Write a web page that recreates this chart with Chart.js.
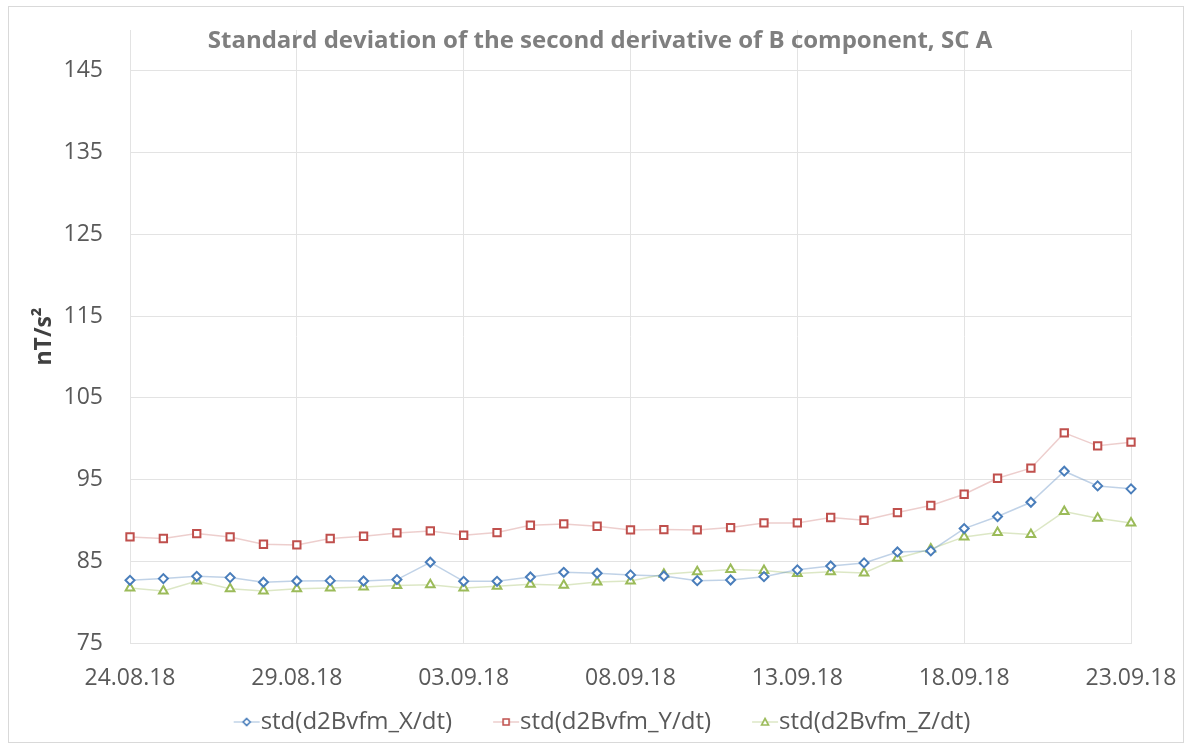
<!DOCTYPE html>
<html>
<head>
<meta charset="utf-8">
<script src="https://cdn.jsdelivr.net/npm/chart.js@4.4.1/dist/chart.umd.min.js"></script>
<style>
  html, body { margin: 0; padding: 0; background: #fff; }
  #wrap { width: 1192px; height: 749px; position: relative; }
</style>
</head>
<body>
<div id="wrap"><canvas id="chart"></canvas></div>
<script>
// ===== DATA =====
const dates = [
  "24.08.18", "25.08.18", "26.08.18", "27.08.18", "28.08.18", "29.08.18", "30.08.18", "31.08.18",
  "01.09.18", "02.09.18", "03.09.18", "04.09.18", "05.09.18", "06.09.18", "07.09.18", "08.09.18",
  "09.09.18", "10.09.18", "11.09.18", "12.09.18", "13.09.18", "14.09.18", "15.09.18", "16.09.18",
  "17.09.18", "18.09.18", "19.09.18", "20.09.18", "21.09.18", "22.09.18", "23.09.18"
]
const stdX = [
  82.67, 82.88, 83.16, 83.00, 82.43, 82.59, 82.63, 82.59, 82.76, 84.88,
  82.55, 82.55, 83.08, 83.65, 83.53, 83.33, 83.20, 82.63, 82.71, 83.12,
  83.95, 84.43, 84.80, 86.14, 86.27, 89.00, 90.47, 92.22, 96.02, 94.22, 93.86
]
const stdY = [
  87.98, 87.78, 88.39, 87.98, 87.08, 87.00, 87.78, 88.06, 88.47, 88.71,
  88.18, 88.51, 89.41, 89.57, 89.29, 88.84, 88.88, 88.84, 89.12, 89.69,
  89.69, 90.35, 90.02, 90.96, 91.82, 93.20, 95.16, 96.39, 100.71, 99.12, 99.57
]
const stdZ = [
  81.73, 81.37, 82.59, 81.65, 81.37, 81.65, 81.73, 81.86, 82.02, 82.14,
  81.73, 81.94, 82.18, 82.06, 82.47, 82.59, 83.41, 83.73, 83.98, 83.86,
  83.49, 83.73, 83.57, 85.37, 86.51, 87.98, 88.51, 88.27, 91.08, 90.27, 89.69
]
const yTicks = [75, 85, 95, 105, 115, 125, 135, 145]
const seriesNames = ["std(d2Bvfm_X/dt)", "std(d2Bvfm_Y/dt)", "std(d2Bvfm_Z/dt)"]
const chartTitle = "Standard deviation of the second derivative of B component, SC A"
const yTitle = "nT/s²"

// ===== STYLE =====
const FONT = "'Open Sans', 'Noto Sans', sans-serif"
const GRID = "#e3e3e3"
const colors = [
  { mark: "#4a7ebb", line: "rgba(74,126,187,0.35)", style: "rectRot",  r: 4.5 },
  { mark: "#c0504d", line: "rgba(192,80,77,0.28)",  style: "rect",     r: 5.2 },
  { mark: "#9bbb59", line: "rgba(155,187,89,0.35)", style: "triangle", r: 5 }
]

// legend icon: short line with the marker, shifted right so it sits just before the text
function legendIcon(c) {
  const cv = document.createElement("canvas")
  cv.width = 66; cv.height = 14
  const g = cv.getContext("2d")
  const cx = 52, cy = 7
  g.strokeStyle = c.line; g.lineWidth = 1.5
  g.beginPath(); g.moveTo(cx - 13, cy); g.lineTo(cx + 13, cy); g.stroke()
  g.fillStyle = "#fff"; g.strokeStyle = c.mark; g.lineWidth = 1.6
  g.beginPath()
  if (c.style === "rectRot") {
    g.moveTo(cx, cy - 3.5); g.lineTo(cx + 3.5, cy); g.lineTo(cx, cy + 3.5); g.lineTo(cx - 3.5, cy); g.closePath()
  } else if (c.style === "rect") {
    g.rect(cx - 3, cy - 3, 6, 6)
  } else {
    g.moveTo(cx, cy - 3.5); g.lineTo(cx + 3.5, cy + 3); g.lineTo(cx - 3.5, cy + 3); g.closePath()
  }
  g.fill(); g.stroke()
  return cv
}

// white background + light chart-area frame
const frame = {
  id: "frame",
  beforeDraw(chart) {
    const ctx = chart.ctx
    ctx.save()
    ctx.fillStyle = "#fff"
    ctx.fillRect(0, 0, chart.width, chart.height)
    ctx.strokeStyle = "#d9d9d9"
    ctx.lineWidth = 1
    ctx.strokeRect(8.5, 6.5, chart.width - 17, chart.height - 13)
    ctx.restore()
  }
}

// title overlaps the top of the plot, as in the source
const overlayTitle = {
  id: "overlayTitle",
  beforeDatasetsDraw(chart) {
    const ctx = chart.ctx
    ctx.save()
    ctx.font = "bold 24px " + FONT
    ctx.fillStyle = "#7f7f7f"
    ctx.textAlign = "center"
    ctx.textBaseline = "middle"
    ctx.fillText(chartTitle, 600, 41)
    ctx.restore()
  }
}

// ===== CHART =====
const datasets = [stdX, stdY, stdZ].map((vals, i) => ({
  label: seriesNames[i],
  data: vals,
  borderColor: colors[i].line,
  borderWidth: 1.5,
  pointStyle: colors[i].style,
  pointRadius: colors[i].r,
  pointBorderColor: colors[i].mark,
  pointBackgroundColor: "#fff",
  pointBorderWidth: 2,
  tension: 0,
  fill: false
}))

const icons = colors.map(legendIcon)

new Chart(document.getElementById("chart"), {
  type: "line",
  data: { labels: dates, datasets },
  plugins: [frame, overlayTitle],
  options: {
    responsive: true,
    maintainAspectRatio: false,
    animation: false,
    layout: { padding: { top: 30, right: 15, bottom: 5, left: 0 } },
    plugins: {
      title: { display: false },
      legend: {
        position: "bottom",
        labels: {
          usePointStyle: true,
          pointStyleWidth: 42,
          padding: 14,
          color: "#595959",
          font: { family: FONT, size: 24 },
          generateLabels: chart => chart.data.datasets.map((ds, i) => ({
            text: ds.label,
            pointStyle: icons[i],
            fontColor: "#595959",
            strokeStyle: "transparent",
            fillStyle: "transparent",
            lineWidth: 0,
            datasetIndex: i
          }))
        }
      },
      tooltip: { enabled: false }
    },
    scales: {
      x: {
        type: "category",
        offset: false,
        grid: { color: GRID, drawTicks: true, tickLength: 22, tickColor: "transparent" },
        border: { color: GRID },
        afterFit: s => { s.height = 53 },
        ticks: {
          autoSkip: false,
          maxRotation: 0,
          padding: 0,
          color: "#595959",
          font: { family: FONT, size: 23 },
          callback: (v, i) => (i % 5 === 0 ? dates[i] : null)
        }
      },
      y: {
        min: 75,
        max: 150,
        grid: { color: GRID, drawTicks: true, tickLength: 27, tickColor: "transparent" },
        border: { color: GRID },
        afterBuildTicks: s => { s.ticks = yTicks.map(v => ({ value: v })) },
        afterFit: s => { s.width = 130 },
        ticks: {
          padding: 0,
          color: "#595959",
          font: { family: FONT, size: 23 }
        },
        title: {
          display: true,
          text: yTitle,
          color: "#404040",
          font: { family: FONT, size: 23, weight: "bold" },
          padding: { top: 31, bottom: 0 }
        }
      },
      yR: {
        position: "right",
        display: true,
        grid: { display: false },
        border: { display: false },
        ticks: { display: false },
        afterFit: s => { s.width = 46 }
      }
    }
  }
})
</script>
</body>
</html>
